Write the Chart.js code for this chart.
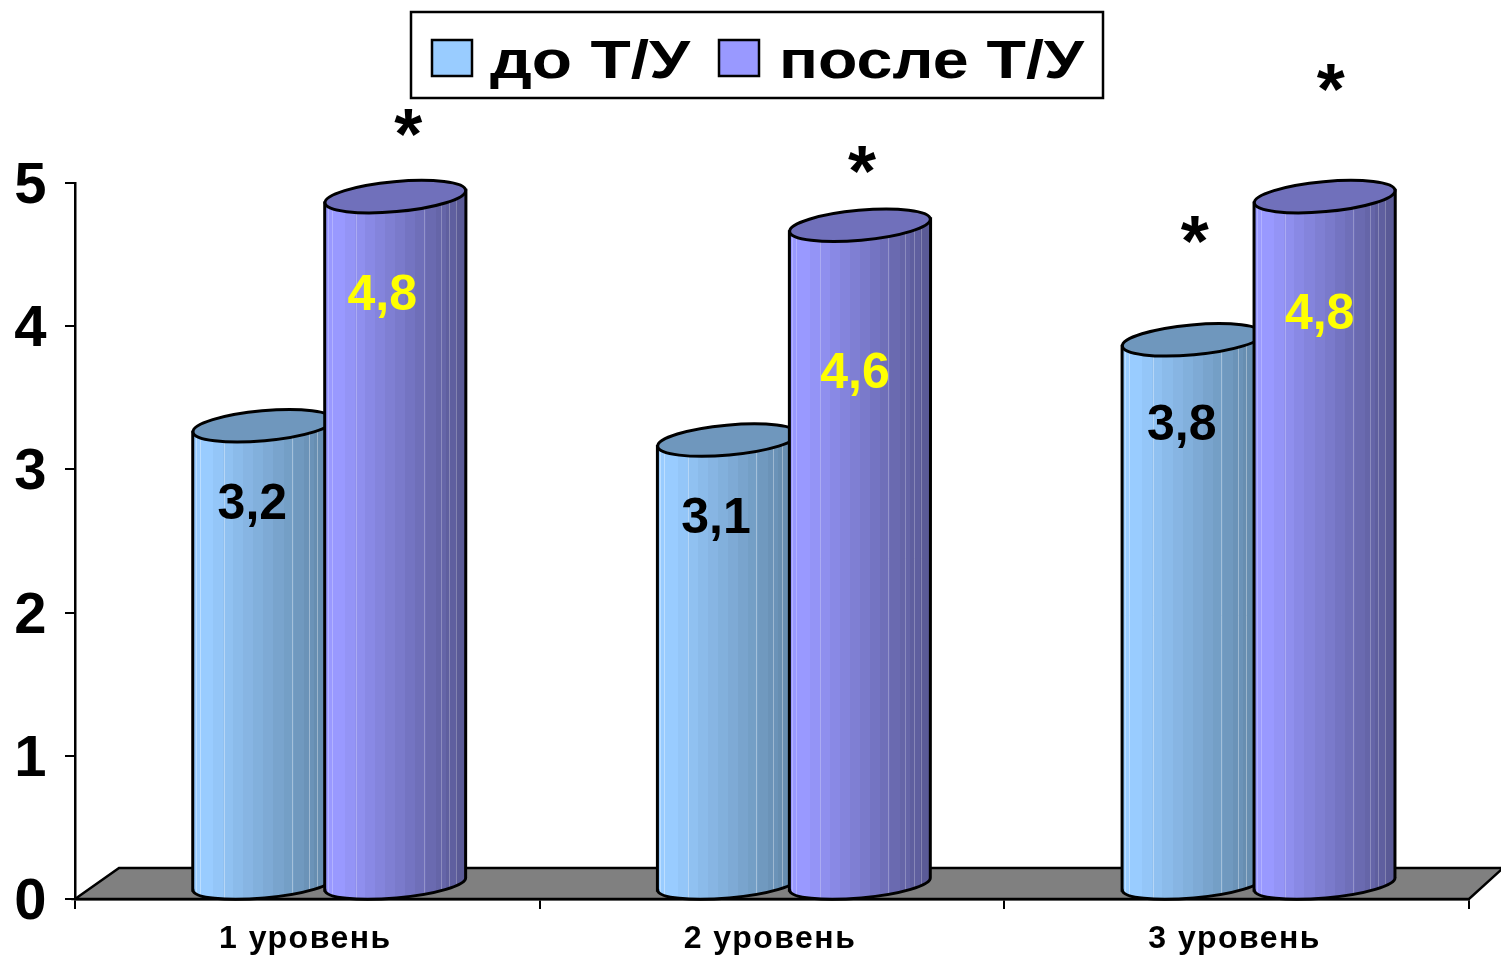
<!DOCTYPE html>
<html>
<head>
<meta charset="utf-8">
<title>Уровни до и после Т/У</title>
<script src="https://cdn.jsdelivr.net/npm/chart.js@4/dist/chart.umd.min.js"></script>
<style>
  html, body { margin: 0; padding: 0; background: #fff; }
  canvas { display: block; }
</style>
</head>
<body>
<canvas id="chart" width="1501" height="956"></canvas>
<script>
// --- data ---
const categories = ["1 уровень", "2 уровень", "3 уровень"];
const seriesNames = ["до Т/У", "после Т/У"];
const beforeValues = [3.2, 3.1, 3.8];
const afterValues = [4.8, 4.6, 4.8];
const yTicks = [0, 1, 2, 3, 4, 5];
const beforeStars = [false, false, true];
const afterStars = [true, true, true];

// --- looks ---
const FONT = '"Liberation Sans", Arial, sans-serif';
const SHADES = [
  { light: [153, 204, 255], dark: [98, 136, 170], top: "#6f97bd", lineCol: "rgba(255,255,255,0.35)" },
  { light: [153, 153, 255], dark: [90, 90, 150], top: "#7070bb", lineCol: "rgba(255,255,255,0.25)" },
];
const rgb = (c) => "rgb(" + c.join(",") + ")";
const LIFT = 15;       // the 3d floor lifts bars off the axis line
const SHIFT = 22;      // ...and pushes them right of the category centre
const RX_SCALE = 1.07; // cylinders are a bit wider than the bar slot
const RY = 15;
const TILT = -0.09;
const BANDS = 14;
const STREAKS = [0.02, 0.05, 0.22, 0.7, 0.82, 0.88, 0.93];

// label and star offsets from the bar top, hand placed in the original
const labelDrop = [[76, 76, 83], [96, 146, 115]];
const labelDx = [[-11, -12, -11], [-13, -5, -5]];
const starRise = [[0, 0, 116], [80, 71, 125]];
const starDx = [[0, 0, 2], [13, 2, 6]];

function stretchedText(ctx, text, x, y, width) {
  ctx.save();
  const w = ctx.measureText(text).width;
  ctx.translate(x, y);
  ctx.scale(width / w, 1);
  ctx.textAlign = "left";
  ctx.fillText(text, 0, 0);
  ctx.restore();
}

function drawFloor(ctx, area) {
  ctx.save();
  ctx.beginPath();
  ctx.moveTo(area.left, area.bottom);
  ctx.lineTo(area.left + 44, area.bottom - 31);
  ctx.lineTo(1503, area.bottom - 31);
  ctx.lineTo(area.right, area.bottom);
  ctx.closePath();
  ctx.fillStyle = "#808080";
  ctx.fill();
  ctx.lineWidth = 2.5;
  ctx.strokeStyle = "#000";
  ctx.stroke();
  ctx.restore();
}

function drawCylinder(ctx, cx, topY, baseY, rx, shade) {
  const slope = Math.sin(TILT) * rx;
  const body = new Path2D();
  body.moveTo(cx - rx, topY - slope);
  body.lineTo(cx - rx, baseY - slope);
  body.ellipse(cx, baseY, rx, RY - 1, TILT, Math.PI, 0, true);
  body.lineTo(cx + rx, topY + slope);
  body.closePath();

  // stepped shading, the original is built from flat facets
  const grad = ctx.createLinearGradient(cx - rx, 0, cx + rx, 0);
  for (let b = 0; b < BANDS; b++) {
    const t = Math.max(0, b - 1) / (BANDS - 2);
    const col = rgb(shade.light.map((v, k) => Math.round(v + (shade.dark[k] - v) * t)));
    grad.addColorStop(b / BANDS, col);
    grad.addColorStop((b + 1) / BANDS, col);
  }
  ctx.fillStyle = grad;
  ctx.fill(body);

  ctx.save();
  ctx.clip(body);
  ctx.strokeStyle = shade.lineCol;
  ctx.lineWidth = 1;
  STREAKS.forEach((f) => {
    const sx = Math.round(cx - rx + f * rx * 2) + 0.5;
    ctx.beginPath();
    ctx.moveTo(sx, topY - RY);
    ctx.lineTo(sx, baseY + RY);
    ctx.stroke();
  });
  ctx.restore();

  ctx.strokeStyle = "#000";
  ctx.lineWidth = 3;
  ctx.stroke(body);

  ctx.beginPath();
  ctx.ellipse(cx, topY, rx, RY, TILT, 0, Math.PI * 2);
  ctx.fillStyle = shade.top;
  ctx.fill();
  ctx.stroke();
}

const cylinderPlugin = {
  id: "cylinders",
  beforeDraw(chart) {
    // the axis text in the original is a little spread out
    chart.ctx.letterSpacing = "1.5px";
  },
  beforeDatasetsDraw(chart) {
    const { ctx, chartArea } = chart;
    ctx.letterSpacing = "0px";
    drawFloor(ctx, chartArea);
    const baseY = chart.scales.y.getPixelForValue(0) - LIFT;
    chart.data.datasets.forEach((ds, d) => {
      chart.getDatasetMeta(d).data.forEach((bar) => {
        const rx = (bar.width * RX_SCALE) / 2;
        drawCylinder(ctx, bar.x + SHIFT, bar.y - LIFT, baseY, rx, SHADES[d]);
      });
    });
  },
  beforeDatasetDraw() {
    return false; // cylinders replace the flat bars
  },
  afterDatasetsDraw(chart) {
    const { ctx } = chart;
    ctx.save();
    ctx.textAlign = "center";
    ctx.textBaseline = "alphabetic";
    chart.data.datasets.forEach((ds, d) => {
      chart.getDatasetMeta(d).data.forEach((bar, i) => {
        const cx = bar.x + SHIFT;
        const topY = bar.y - LIFT;
        ctx.font = "bold 50px " + FONT;
        ctx.fillStyle = d === 0 ? "#000" : "#ffff00";
        ctx.fillText(
          String(ds.data[i]).replace(".", ","),
          cx + labelDx[d][i],
          topY + labelDrop[d][i] + 17
        );
        if (ds.stars[i]) {
          ctx.font = "bold 72px " + FONT;
          ctx.fillStyle = "#000";
          ctx.fillText("*", cx + starDx[d][i], topY - starRise[d][i] + 42);
        }
      });
    });
    ctx.restore();
  },
  afterDraw(chart) {
    const { ctx } = chart;
    // legend with the frame the original has
    ctx.save();
    ctx.fillStyle = "#fff";
    ctx.strokeStyle = "#000";
    ctx.lineWidth = 2.5;
    ctx.fillRect(411, 12, 692, 86);
    ctx.strokeRect(411, 12, 692, 86);
    const swatchX = [432, 719];
    const textX = [490, 779];
    const textW = [200, 305];
    ctx.font = "bold 54px " + FONT;
    ctx.textBaseline = "alphabetic";
    seriesNames.forEach((name, i) => {
      ctx.fillStyle = rgb(SHADES[i].light);
      ctx.fillRect(swatchX[i], 40, 40, 36);
      ctx.strokeRect(swatchX[i], 40, 40, 36);
      ctx.fillStyle = "#000";
      stretchedText(ctx, name, textX[i], 78, textW[i]);
    });
    ctx.restore();
  },
};

new Chart(document.getElementById("chart"), {
  type: "bar",
  data: {
    labels: categories,
    datasets: [
      { label: seriesNames[0], data: beforeValues, stars: beforeStars, backgroundColor: rgb(SHADES[0].light) },
      { label: seriesNames[1], data: afterValues, stars: afterStars, backgroundColor: rgb(SHADES[1].light) },
    ],
  },
  options: {
    responsive: false,
    animation: false,
    layout: { padding: { top: 183, right: 32, left: 0, bottom: 0 } },
    plugins: { legend: { display: false }, tooltip: { enabled: false } },
    datasets: { bar: { categoryPercentage: 0.568, barPercentage: 1 } },
    scales: {
      x: {
        grid: { drawOnChartArea: false, color: "#000", lineWidth: 2, tickLength: 10, offset: true },
        border: { color: "#000", width: 2.5 },
        ticks: { color: "#000", font: { family: FONT, weight: "bold", size: 32 }, padding: 11, maxRotation: 0, labelOffset: -2 },
        afterFit(scale) { scale.height = 57; },
      },
      y: {
        min: 0,
        max: 5,
        afterBuildTicks(scale) { scale.ticks = yTicks.map((v) => ({ value: v })); },
        grid: { drawOnChartArea: false, color: "#000", lineWidth: 2, tickLength: 10 },
        border: { color: "#000", width: 2.5 },
        ticks: { color: "#000", font: { family: FONT, weight: "bold", size: 58 }, padding: 17, labelOffset: 4 },
        afterFit(scale) { scale.width = 75; },
      },
    },
  },
  plugins: [cylinderPlugin],
});
</script>
</body>
</html>
